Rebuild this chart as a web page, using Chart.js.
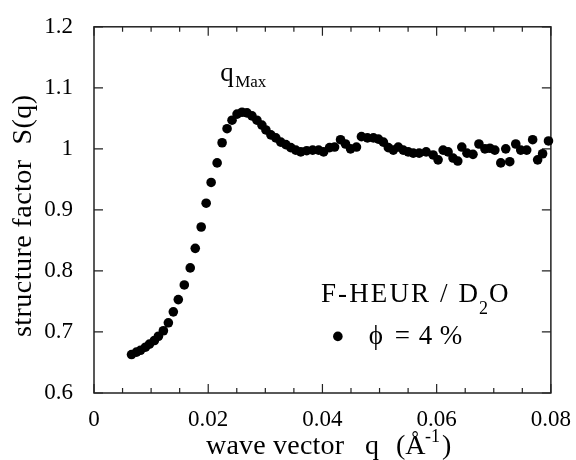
<!DOCTYPE html>
<html><head><meta charset="utf-8">
<script src="https://cdn.jsdelivr.net/npm/chart.js@4.4.0/dist/chart.umd.min.js"></script>
<style>html,body{margin:0;padding:0;background:#fff;}</style>
</head><body>
<canvas id="c" width="576" height="460"></canvas>
<script>
// ---- data ----
const qValues = [
  0.00657,0.00744,0.00814,0.00901,0.00971,0.01058,0.01128,0.01215,0.01302,0.01389,
  0.01476,0.01581,0.01685,0.01773,0.01877,0.01964,0.02051,0.02156,0.02243,0.02330,
  0.02417,0.02505,0.02592,0.02679,0.02766,0.02853,0.02940,0.03010,0.03097,0.03184,
  0.03271,0.03359,0.03446,0.03533,0.03620,0.03725,0.03829,0.03934,0.04021,0.04125,
  0.04213,0.04317,0.04404,0.04492,0.04596,0.04683,0.04788,0.04893,0.04980,0.05067,
  0.05154,0.05241,0.05328,0.05415,0.05502,0.05590,0.05694,0.05816,0.05938,0.06025,
  0.06113,0.06200,0.06287,0.06370,0.06440,0.06531,0.06636,0.06740,0.06845,0.06932,
  0.07019,0.07123,0.07210,0.07280,0.07385,0.07472,0.07577,0.07681,0.07768,0.07855,
  0.07958
];
const sValues = [
  0.663,0.667,0.670,0.675,0.680,0.686,0.693,0.702,0.715,0.733,
  0.753,0.777,0.805,0.837,0.872,0.911,0.945,0.977,1.010,1.033,
  1.047,1.057,1.060,1.059,1.054,1.047,1.039,1.031,1.023,1.018,
  1.011,1.007,1.002,0.998,0.995,0.997,0.998,0.998,0.995,1.002,
  1.003,1.015,1.008,1.000,1.003,1.020,1.018,1.018,1.016,1.011,
  1.002,0.998,1.003,0.998,0.995,0.993,0.993,0.995,0.990,0.982,
  0.998,0.995,0.985,0.980,1.003,0.993,0.991,1.008,1.000,1.001,
  0.998,0.977,1.000,0.979,1.008,0.998,0.998,1.015,0.982,0.992,
  1.013
];
const xTickValues = [0, 0.02, 0.04, 0.06, 0.08];
const yTickValues = [0.6, 0.7, 0.8, 0.9, 1.0, 1.1, 1.2];
const xMinorStep = 0.005;
const seriesName = 'ϕ = 4 %';
const systemName = 'F-HEUR / D';
const peakLabel = 'q';
const peakSub = 'Max';
const xTitleMain = 'wave vector';
const yTitle = 'structure factor  S(q)';

const SERIF = "'Liberation Serif','Times New Roman',serif";

function fitText(ctx, text, x, y, width) {
  ctx.letterSpacing = '0px';
  if (width && text.length > 1) {
    const w = ctx.measureText(text).width;
    ctx.letterSpacing = ((width - w) / (text.length - 1)) + 'px';
  }
  ctx.fillText(text, x, y);
  ctx.letterSpacing = '0px';
}

const decor = {
  id: 'decor',
  beforeDatasetsDraw(chart) {
    const {ctx, chartArea: a, scales: {x, y}} = chart;
    ctx.save();
    ctx.strokeStyle = '#222';
    ctx.lineWidth = 1.5;
    ctx.strokeRect(a.left, a.top, a.right - a.left, a.bottom - a.top);
    ctx.lineWidth = 1.2;
    ctx.beginPath();
    const nMinor = Math.round((x.max - x.min) / xMinorStep);
    for (let i = 0; i <= nMinor; i++) {
      const v = x.min + i * xMinorStep;
      const major = xTickValues.some(t => Math.abs(t - v) < 1e-9);
      const len = major ? 9 : 5;
      const px = x.getPixelForValue(v);
      ctx.moveTo(px, a.bottom); ctx.lineTo(px, a.bottom - len);
      ctx.moveTo(px, a.top); ctx.lineTo(px, a.top + len);
    }
    yTickValues.forEach(v => {
      const py = y.getPixelForValue(v);
      ctx.moveTo(a.left, py); ctx.lineTo(a.left + 9, py);
      ctx.moveTo(a.right, py); ctx.lineTo(a.right - 9, py);
    });
    ctx.stroke();
    ctx.restore();
  },
  afterDraw(chart) {
    const {ctx, scales: {x, y}} = chart;
    ctx.save();
    ctx.fillStyle = '#000';
    ctx.textBaseline = 'alphabetic';
    ctx.textAlign = 'left';

    // peak label q_Max
    const qx = x.getPixelForValue(0.0221), qy = y.getPixelForValue(1.112);
    ctx.font = '27px ' + SERIF;
    ctx.fillText(peakLabel, qx, qy);
    ctx.font = '17px ' + SERIF;
    ctx.fillText(peakSub, qx + 15, qy + 6);

    // system name F-HEUR / D2O
    const sx = x.getPixelForValue(0.03974), sy = y.getPixelForValue(0.7485);
    ctx.font = '27px ' + SERIF;
    fitText(ctx, systemName, sx, sy, 157);
    ctx.font = '18px ' + SERIF;
    ctx.fillText('2', sx + 158, sy + 12);
    ctx.font = '27px ' + SERIF;
    ctx.fillText('O', sx + 168, sy);

    // legend marker and label
    const lx = x.getPixelForValue(0.0427), ly = y.getPixelForValue(0.6927);
    ctx.beginPath();
    ctx.arc(lx, ly, 4.8, 0, Math.PI * 2);
    ctx.fill();
    const parts = seriesName.split(' ');
    const offs = [31, 57, 81, 102];
    ctx.font = '27px ' + SERIF;
    parts.forEach((p, i) => ctx.fillText(p, lx + offs[i], ly + 8));

    // x axis title
    const bx = 206, by = 454;
    ctx.font = '28px ' + SERIF;
    fitText(ctx, xTitleMain, bx, by, 138);
    ctx.fillText('q', bx + 159, by);
    ctx.fillText('(Å', bx + 190, by);
    ctx.font = '18px ' + SERIF;
    ctx.fillText('-1', bx + 219, by - 12);
    ctx.font = '28px ' + SERIF;
    ctx.fillText(')', bx + 236, by);

    // y axis title
    ctx.translate(31, 337);
    ctx.rotate(-Math.PI / 2);
    ctx.font = '28px ' + SERIF;
    fitText(ctx, yTitle, 0, 0, 242);
    ctx.restore();
  }
};

new Chart(document.getElementById('c'), {
  type: 'scatter',
  data: {
    datasets: [{
      label: seriesName,
      data: qValues.map((q, i) => ({x: q, y: sValues[i]})),
      pointRadius: 4.8,
      pointHoverRadius: 4.8,
      pointBackgroundColor: '#000',
      pointBorderWidth: 0,
      clip: false
    }]
  },
  options: {
    responsive: false,
    devicePixelRatio: 1,
    animation: false,
    events: [],
    layout: {padding: {left: 0, right: 23, top: 24, bottom: 0}},
    plugins: {legend: {display: false}, tooltip: {enabled: false}},
    scales: {
      x: {
        type: 'linear', min: 0, max: 0.08,
        afterBuildTicks: s => { s.ticks = xTickValues.map(v => ({value: v})); },
        afterFit: s => { s.height = 67; },
        grid: {display: false},
        border: {display: false},
        ticks: {
          autoSkip: false, maxRotation: 0, padding: 5, color: '#000',
          font: {family: SERIF, size: 23},
          callback: v => v === 0 ? '0' : v.toFixed(2)
        }
      },
      y: {
        type: 'linear', min: 0.6, max: 1.2,
        afterBuildTicks: s => { s.ticks = yTickValues.map(v => ({value: v})); },
        afterFit: s => { s.width = 94; },
        grid: {display: false},
        border: {display: false},
        ticks: {
          autoSkip: false, padding: 13, color: '#000',
          font: {family: SERIF, size: 23},
          callback: v => String(Math.round(v * 10) / 10)
        }
      }
    }
  },
  plugins: [decor]
});
</script>
</body></html>
